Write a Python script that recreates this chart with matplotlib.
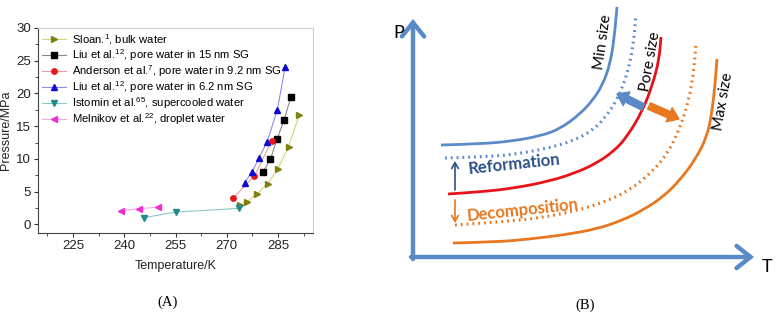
import numpy as np
import matplotlib
matplotlib.use("Agg")
import matplotlib.pyplot as plt
from matplotlib.path import Path
from matplotlib.patches import PathPatch

plt.rcParams['font.family'] = ['Liberation Sans', 'DejaVu Sans']
plt.rcParams['mathtext.fontset'] = 'custom'
plt.rcParams['mathtext.rm'] = 'Liberation Sans'

# ---- panel A data (T in K, P in MPa) ----
sloan_T = [274.0, 275.9, 278.9, 282.0, 285.0, 288.1, 291.2]
sloan_P = [2.9, 3.45, 4.7, 6.25, 8.5, 11.9, 16.7]
liu15_T = [280.6, 282.8, 284.7, 286.8, 288.8]
liu15_P = [8.0, 10.0, 13.0, 16.0, 19.5]
anders_T = [271.8, 278.1, 283.2]
anders_P = [4.0, 7.4, 12.8]
liu62_T = [275.2, 277.4, 279.4, 281.8, 284.8, 287.1]
liu62_P = [6.35, 8.0, 10.1, 12.6, 17.5, 24.0]
istomin_T = [245.9, 255.0, 273.5]
istomin_P = [1.05, 1.9, 2.45]
melnik_T = [238.9, 244.3, 249.8]
melnik_P = [2.1, 2.4, 2.65]

labels = ['Sloan.$^{1}$, bulk water',
          'Liu et al.$^{12}$, pore water in 15 nm SG',
          'Anderson et al.$^{7}$, pore water in 9.2 nm SG',
          'Liu et al.$^{12}$, pore water in 6.2 nm SG',
          'Istomin et al.$^{65}$, supercooled water',
          'Melnikov et al.$^{22}$, droplet water']

x_ticks = [225, 240, 255, 270, 285]
y_ticks = [0, 5, 10, 15, 20, 25, 30]

# ---- panel B schematic curves (T, P in arbitrary units) ----
min_T = [2.8, 6.7, 10.0, 12.7, 14.7, 16.7, 18.0, 19.0, 19.7, 20.1, 20.4]
min_P = [11.2, 11.3, 11.6, 12.1, 12.8, 14.3, 15.7, 17.3, 19.3, 21.7, 25.0]
bdot_T = [3.2, 6.7, 9.7, 13.2, 16.0, 18.0, 19.2, 20.5, 21.4, 22.0, 22.3]
bdot_P = [9.9, 10.0, 10.2, 10.8, 11.6, 12.7, 13.9, 15.9, 18.2, 20.9, 24.2]
pore_T = [3.5, 6.7, 10.2, 13.7, 16.2, 18.2, 20.0, 21.4, 23.0, 24.0, 24.6, 24.8]
pore_P = [6.3, 6.5, 6.9, 7.6, 8.4, 9.3, 10.5, 12.0, 14.7, 17.4, 19.7, 22.0]
odot_T = [4.2, 8.7, 12.7, 16.2, 19.2, 21.7, 23.9, 25.5, 26.7, 27.6, 28.1, 28.3]
odot_P = [3.2, 3.5, 3.9, 4.6, 5.5, 6.7, 8.5, 10.4, 12.9, 15.7, 18.7, 21.5]
max_T = [4.0, 8.4, 11.7, 15.0, 18.4, 21.0, 23.0, 25.0, 26.7, 28.2, 29.4, 29.9, 30.2, 30.4]
max_P = [1.4, 1.5, 1.8, 2.2, 2.8, 3.7, 4.7, 6.0, 7.7, 9.7, 12.0, 14.5, 17.2, 19.8]

fig = plt.figure(figsize=(7.77, 3.18), dpi=100)
W, H = 777.0, 318.0

# ================= panel A =================
ax = fig.add_axes([38 / W, 1 - 233 / H, 275 / W, 205 / H])
series = [
    (sloan_T, sloan_P, '>', '#7f7f12', '#d4d47a'),
    (liu15_T, liu15_P, 's', 'black', '#8a8a8a'),
    (anders_T, anders_P, 'o', '#e3191c', '#f09a9a'),
    (liu62_T, liu62_P, '^', '#0a0ad0', '#8c8cf0'),
    (istomin_T, istomin_P, 'v', '#1f8c8c', '#8cc8c8'),
    (melnik_T, melnik_P, '<', '#f22fd0', '#f6a6e6'),
]
handles = []
for (t, p, m, c, lc), lab in zip(series, labels):
    ax.plot(t, p, '-', color=lc, lw=0.8, zorder=2)
    ax.plot(t, p, m, color=c, ms=3.9, mec=c, zorder=3)
    h, = ax.plot([], [], '-', color=lc, lw=0.8, marker=m, ms=3.9, mfc=c, mec=c)
    handles.append(h)

ax.set_xlim(214.75, 295.25)
ax.set_ylim(-1.3, 30)
ax.set_xticks(x_ticks)
ax.set_yticks(y_ticks)
ax.set_xticks(np.arange(217.5, 295, 7.5), minor=True)
ax.set_yticks(np.arange(-0, 30, 2.5), minor=True)
ax.tick_params(axis='both', which='major', direction='out', length=3, width=0.8,
               labelsize=9.5, pad=2, colors='#333333', labelcolor='#222222')
ax.tick_params(axis='both', which='minor', direction='out', length=2, width=0.6,
               colors='#333333')
for s in ['top', 'right']:
    ax.spines[s].set_color('#cfcfcf')
    ax.spines[s].set_linewidth(0.8)
for s in ['left', 'bottom']:
    ax.spines[s].set_color('#444444')
    ax.spines[s].set_linewidth(0.8)
ax.set_xlabel('Temperature/K', fontsize=9, labelpad=6, color='#222222')
ax.set_ylabel('Pressure/MPa', fontsize=9, labelpad=3, color='#222222')
ax.legend(handles, labels, loc='upper left', frameon=False, fontsize=8.1,
          handlelength=2.1, handletextpad=0.6, labelspacing=0.02,
          borderaxespad=0.1, borderpad=0.25)
fig.text(168 / W, 1 - 302 / H, '(A)', ha='center', va='center', fontsize=10.5,
         family=['Liberation Serif', 'DejaVu Serif'])

# ================= panel B =================
bx = fig.add_axes([380 / W, 0, 397 / W, 1])
bx.set_xlim(-3.3, 36.4)
bx.set_ylim(-6.1, 25.7)
bx.axis('off')

blue = '#5a8ac8'
red = '#e8121a'
orange = '#e8771e'


def smooth_path(xs, ys):
    pts = list(zip(xs, ys))
    verts = [pts[0]]
    codes = [Path.MOVETO]
    for i in range(1, len(pts) - 1):
        mid = ((pts[i][0] + pts[i + 1][0]) / 2, (pts[i][1] + pts[i + 1][1]) / 2)
        verts += [pts[i], mid]
        codes += [Path.CURVE3, Path.CURVE3]
    verts.append(pts[-1])
    codes.append(Path.LINETO)
    return Path(verts, codes)


curves = [
    (min_T, min_P, blue, '-', 2.0),
    (bdot_T, bdot_P, blue, (0, (0.6, 1.3)), 2.2),
    (pore_T, pore_P, red, '-', 2.0),
    (odot_T, odot_P, orange, (0, (0.6, 1.3)), 2.2),
    (max_T, max_P, orange, '-', 2.0),
]
for t, p, c, ls, lw in curves:
    bx.add_patch(PathPatch(smooth_path(t, p), fill=False, edgecolor=c,
                           linestyle=ls, lw=lw, capstyle='butt'))

# axes arrows
bx.annotate('', xy=(0, 23.8), xytext=(0, -0.2),
            arrowprops=dict(arrowstyle='->,head_length=0.5,head_width=0.4',
                            color=blue, lw=3.2, mutation_scale=20,
                            shrinkA=0, shrinkB=0, joinstyle='miter'))
bx.annotate('', xy=(34.1, 0), xytext=(-0.2, 0),
            arrowprops=dict(arrowstyle='->,head_length=0.5,head_width=0.4',
                            color=blue, lw=3.2, mutation_scale=20,
                            shrinkA=0, shrinkB=0, joinstyle='miter'))
bx.text(-1.4, 22.4, 'P', fontsize=13, ha='center', va='center',
        family=['Lato', 'DejaVu Sans'])
bx.text(35.4, -1.0, 'T', fontsize=13, ha='center', va='center',
        family=['Lato', 'DejaVu Sans'])

# thick arrows
bx.annotate('', xy=(20.4, 16.3), xytext=(23.0, 15.0),
            arrowprops=dict(arrowstyle='simple,head_length=0.7,head_width=1.0,tail_width=0.45',
                            color=blue, mutation_scale=11, shrinkA=0, shrinkB=0))
bx.annotate('', xy=(26.6, 13.8), xytext=(23.6, 15.1),
            arrowprops=dict(arrowstyle='simple,head_length=0.7,head_width=1.0,tail_width=0.45',
                            color=orange, mutation_scale=11, shrinkA=0, shrinkB=0))

# small arrows
bx.annotate('', xy=(4.2, 9.6), xytext=(4.2, 6.7),
            arrowprops=dict(arrowstyle='->,head_length=0.35,head_width=0.2',
                            color='#2e5287', lw=1.2, mutation_scale=12,
                            shrinkA=0, shrinkB=0))
bx.annotate('', xy=(4.2, 3.4), xytext=(4.2, 5.7),
            arrowprops=dict(arrowstyle='->,head_length=0.35,head_width=0.2',
                            color=orange, lw=1.2, mutation_scale=12,
                            shrinkA=0, shrinkB=0))

bx.text(10.1, 9.3, 'Reformation', fontsize=12, fontweight='bold', color='#2e5287',
        ha='center', va='center', rotation=6, family=['Lato', 'DejaVu Sans'])
bx.text(11.0, 4.7, 'Decomposition', fontsize=12, fontweight='bold', color=orange,
        ha='center', va='center', rotation=6, family=['Lato', 'DejaVu Sans'])
bx.text(19.0, 21.5, 'Min size', fontsize=11, rotation=82, ha='center', va='center',
        family=['Lato', 'DejaVu Sans'])
bx.text(23.7, 19.5, 'Pore size', fontsize=11, rotation=80, ha='center', va='center',
        family=['Lato', 'DejaVu Sans'])
bx.text(31.0, 15.5, 'Max size', fontsize=11, rotation=80, ha='center', va='center',
        family=['Lato', 'DejaVu Sans'])

fig.text(585 / W, 1 - 305 / H, '(B)', ha='center', va='center', fontsize=10.5,
         family=['Liberation Serif', 'DejaVu Serif'])

fig.savefig('out.png', dpi=100)
